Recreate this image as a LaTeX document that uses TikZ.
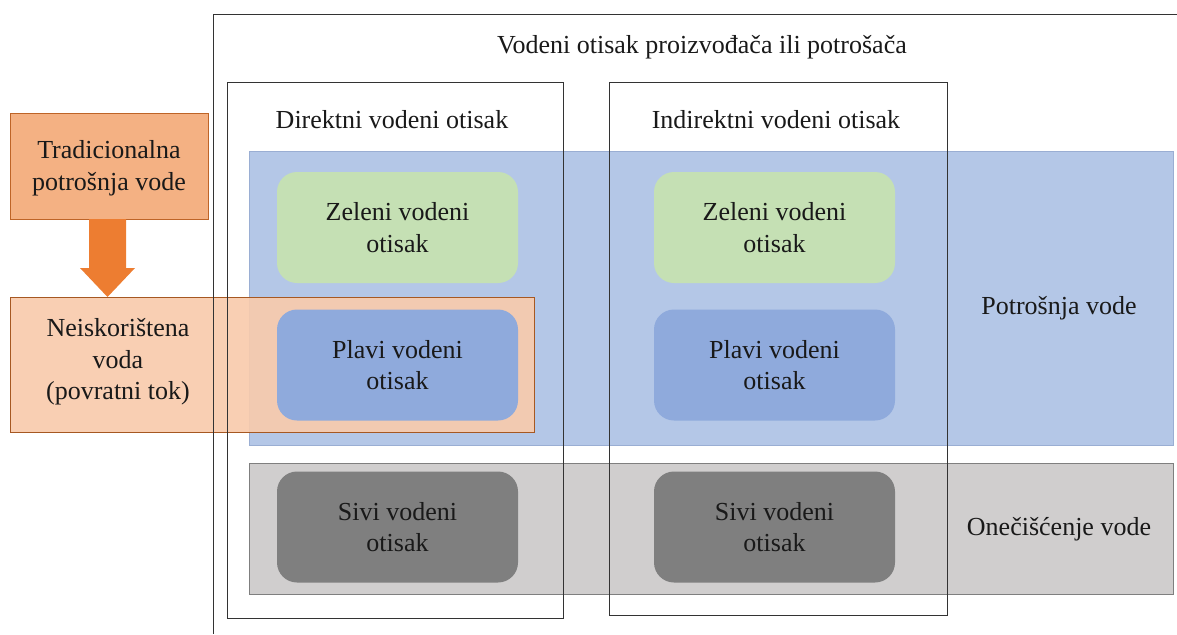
\documentclass[tikz,border=0pt]{standalone}
\usepackage{fontspec}
\setmainfont{Liberation Serif}
\definecolor{pojasplava}{HTML}{B4C7E7}
\definecolor{rubplava}{HTML}{9AAED3}
\definecolor{pojassiva}{HTML}{D0CECE}
\definecolor{zelena}{HTML}{C5E0B4}
\definecolor{plava}{HTML}{8FAADC}
\definecolor{siva}{HTML}{7F7F7F}
\definecolor{narancasta}{HTML}{F4B183}
\definecolor{svijetlonar}{HTML}{F8CBAD}
\definecolor{tamnonar}{HTML}{ED7D31}
\tikzset{
  tekst/.style={font=\fontsize{26}{31.5}\selectfont, align=center, text=black!90},
  okvir/.style={draw=black!80, line width=1pt},
  kutija/.style={tekst, minimum width=241pt, minimum height=111pt,
    rounded corners=20pt, inner sep=0pt},
}
\begin{document}
\begin{tikzpicture}[x=1pt,y=-1pt]
  \useasboundingbox (0,0) rectangle (1177,634);

  % pojasevi
  \draw[fill=pojasplava, draw=rubplava] (249,151) rectangle (1173,445);
  \draw[fill=pojassiva, draw=siva] (249,463) rectangle (1173,594);

  % tradicionalna potrosnja
  \draw[fill=narancasta, draw=tamnonar!80!black] (10,113) rectangle (208,219);
  \node[tekst] (trad) at (109,168) {Tradicionalna\\potrošnja vode};
  \fill[tamnonar] (89,219) -- (126,219) -- (126,268) -- (135,268) -- (107.5,297)
    -- (80,268) -- (89,268) -- cycle;
  \draw[fill=svijetlonar, fill opacity=0.92, draw=tamnonar!70!black] (10,297) rectangle (534,432);
  \node[tekst] (neisk) at (118,362) {Neiskorištena\\voda\\(povratni tok)};

  % okviri
  \draw[okvir] (1177,15) -- (213,15) -- (213,634);
  \draw[okvir] (227,82) rectangle (563,618);
  \draw[okvir] (609,82) rectangle (947,615);

  \node[tekst] (naslov) at (702,47) {Vodeni otisak proizvođača ili potrošača};
  \node[tekst] (direkt) at (392,120) {Direktni vodeni otisak};
  \node[tekst] (indirekt) at (776,120) {Indirektni vodeni otisak};

  \foreach \cx/\nm in {397.5/D,774.5/I} {
    \node[kutija, fill=zelena] (zeleni\nm) at (\cx,227.5) {Zeleni vodeni\\otisak};
    \node[kutija, fill=plava] (plavi\nm) at (\cx,365) {Plavi vodeni\\otisak};
    \node[kutija, fill=siva] (sivi\nm) at (\cx,527) {Sivi vodeni\\otisak};
  }

  \node[tekst] (potrosnja) at (1059,308) {Potrošnja vode};
  \node[tekst] (oneciscenje) at (1059,529) {Onečišćenje vode};
\end{tikzpicture}
\end{document}
